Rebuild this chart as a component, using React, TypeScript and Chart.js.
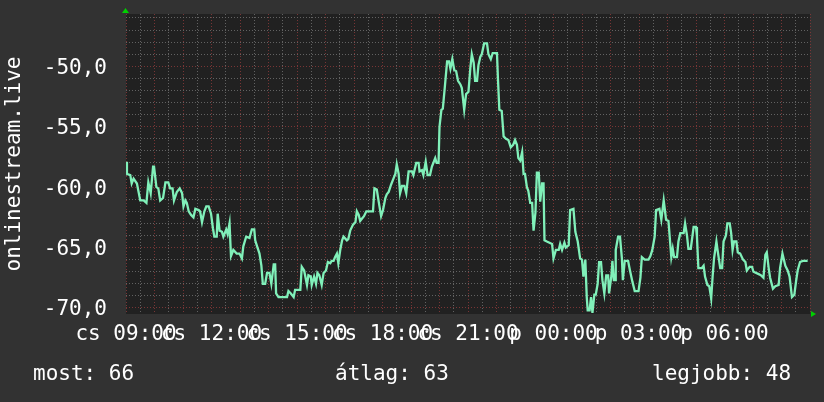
import React, { useEffect, useRef } from 'react';
import { Chart, registerables } from 'chart.js';

Chart.register(...registerables);

// minutes since "cs 09:00"
const times = [
  0, 2, 9, 12, 16, 23, 30, 37, 43, 47, 52, 57, 59, 64, 68, 72, 78, 83, 89, 93,
  98, 101, 107, 113, 118, 121, 125, 128, 132, 137, 142, 146, 153, 156, 160, 165, 169, 174, 179, 183,
  186, 191, 193, 197, 202, 205, 211, 214, 218, 221, 226, 233, 239, 244, 247, 253, 260, 265, 270, 272,
  276, 281, 285, 288, 293, 297, 302, 306, 311, 314, 316, 321, 339, 342, 347, 353, 356, 367, 370, 375,
  381, 384, 389, 391, 396, 400, 403, 407, 412, 416, 421, 425, 430, 433, 437, 440, 444, 447, 451, 455,
  458, 465, 468, 472, 478, 483, 486, 490, 493, 497, 501, 506, 520, 523, 528, 532, 537, 541, 546, 549,
  553, 558, 562, 567, 570, 574, 577, 581, 586, 590, 595, 602, 605, 611, 616, 618, 623, 626, 631, 635,
  640, 644, 647, 651, 654, 658, 660, 664, 667, 671, 676, 680, 683, 687, 691, 695, 699, 704, 707, 709,
  712, 716, 721, 725, 728, 732, 735, 739, 742, 746, 749, 754, 760, 763, 768, 772, 781, 783, 786, 791,
  795, 800, 805, 810, 815, 819, 823, 826, 830, 834, 837, 840, 844, 847, 851, 855, 858, 862, 865, 869,
  872, 876, 879, 881, 886, 897, 900, 905, 911, 914, 918, 923, 926, 932, 935, 942, 946, 951, 956, 960,
  963, 967, 970, 972, 976, 979, 982, 986, 989, 993, 996, 1000, 1003, 1007, 1011, 1015, 1017, 1022, 1024, 1027,
  1030, 1031, 1036, 1040, 1044, 1046, 1050, 1057, 1061, 1066, 1071, 1079, 1083, 1086, 1092, 1100, 1104, 1108, 1113, 1116,
  1123, 1127, 1132, 1137, 1142, 1148, 1151, 1154, 1160, 1163, 1167, 1174, 1177, 1181, 1184, 1189, 1195, 1200, 1202, 1205,
  1212, 1216, 1219, 1224, 1228, 1232, 1235, 1238, 1243, 1245, 1251, 1255, 1258, 1263, 1266, 1271, 1274, 1277, 1280, 1285,
  1288, 1293, 1299, 1304, 1307, 1313, 1318, 1321, 1332, 1337, 1342, 1346, 1349, 1353, 1356, 1362, 1367, 1374, 1377, 1382,
  1388, 1393, 1397, 1402, 1407, 1411, 1414, 1419, 1425, 1435,
];

const values = [
  -57.9, -58.9, -59.0, -59.7, -59.3, -59.7, -61.1, -61.1, -61.3, -59.6, -60.5, -58.3, -58.3, -60.0, -60.1, -61.1, -60.9, -59.6, -59.6, -60.1,
  -60.1, -61.1, -60.4, -60.1, -60.5, -61.6, -61.1, -61.3, -62.0, -62.3, -62.5, -61.8, -61.9, -62.0, -62.9, -62.0, -61.6, -61.6, -62.2, -63.4,
  -64.1, -64.1, -62.2, -63.6, -63.7, -64.1, -63.5, -63.9, -63.0, -65.7, -65.2, -65.5, -65.5, -65.9, -64.9, -64.1, -64.2, -63.5, -63.5, -64.4,
  -64.9, -65.5, -66.5, -68.0, -68.0, -67.1, -67.1, -68.0, -66.4, -66.4, -68.8, -69.1, -69.1, -68.6, -68.8, -69.1, -68.5, -68.5, -66.6, -66.9,
  -68.1, -67.3, -67.4, -68.1, -67.4, -68.0, -67.1, -67.3, -68.1, -67.1, -66.9, -66.2, -66.3, -66.1, -66.1, -65.8, -65.5, -66.3, -65.2, -64.4,
  -64.1, -64.4, -64.3, -63.6, -63.1, -62.9, -62.0, -62.3, -62.8, -62.6, -62.4, -62.0, -62.0, -60.1, -60.2, -61.2, -62.4, -61.9, -60.9, -60.6,
  -60.4, -59.8, -59.4, -58.9, -58.1, -58.9, -60.5, -59.9, -59.9, -60.5, -58.7, -58.7, -59.0, -58.0, -58.0, -58.7, -58.6, -59.0, -57.9, -59.0,
  -59.0, -58.3, -58.0, -57.6, -58.0, -58.0, -55.0, -53.6, -53.5, -51.8, -49.6, -49.6, -50.2, -49.4, -50.3, -50.4, -51.2, -51.5, -51.8, -52.5,
  -53.6, -52.3, -52.1, -50.1, -49.0, -49.7, -51.2, -51.2, -49.9, -49.2, -49.0, -48.1, -48.1, -49.0, -49.4, -48.9, -48.9, -51.0, -53.6, -53.7,
  -55.8, -56.0, -56.1, -56.7, -56.5, -56.1, -56.5, -57.6, -57.8, -57.1, -58.9, -58.9, -60.0, -60.3, -61.3, -61.3, -63.6, -62.1, -58.8, -58.8,
  -61.2, -59.7, -59.7, -64.4, -64.5, -64.7, -65.9, -65.2, -65.2, -64.7, -65.2, -64.6, -65.0, -64.8, -61.9, -61.8, -63.7, -64.5, -65.9, -66.0,
  -67.4, -66.0, -69.1, -70.2, -70.2, -69.1, -70.4, -68.9, -68.9, -68.0, -66.2, -66.2, -67.7, -68.8, -67.3, -67.3, -68.8, -67.3, -66.1, -67.7,
  -67.7, -65.2, -64.1, -64.1, -65.9, -67.7, -66.1, -66.1, -66.9, -67.8, -68.6, -68.6, -67.5, -65.8, -66.0, -66.0, -65.7, -65.2, -64.1, -61.9,
  -61.8, -62.7, -61.1, -62.7, -62.8, -65.8, -65.1, -65.8, -65.8, -64.5, -63.8, -63.8, -63.0, -64.0, -65.1, -65.1, -63.3, -63.3, -64.1, -66.7,
  -66.7, -66.5, -67.4, -68.1, -68.2, -69.2, -67.4, -65.9, -64.5, -65.1, -66.7, -66.7, -64.5, -64.0, -63.0, -63.0, -63.8, -65.2, -64.5, -64.5,
  -65.4, -65.5, -66.0, -66.2, -66.9, -66.6, -66.6, -67.0, -67.2, -67.3, -67.5, -65.6, -65.4, -66.7, -67.5, -68.4, -68.2, -68.1, -66.7, -65.5,
  -66.5, -66.9, -67.4, -69.1, -68.9, -67.7, -66.9, -66.2, -66.1, -66.1,
];

const xTickLabels = ['cs 09:00', 'cs 12:00', 'cs 15:00', 'cs 18:00', 'cs 21:00', 'p 00:00', 'p 03:00', 'p 06:00'];
const yTitle = 'onlinestream.live';
const legendTexts = ['most: 66', 'átlag: 63', 'legjobb: 48'];

const FONT = "'DejaVu Sans Mono', monospace";
const GRID_MINOR = 'rgba(105,105,105,0.9)';
const GRID_MAJOR = 'rgba(130,55,55,0.9)';

const zeroPad = (s: any) => {
  s.paddingTop = 0;
  s.paddingBottom = 0;
  s.paddingLeft = 0;
  s.paddingRight = 0;
};

const decorPlugin = {
  id: 'decor',
  beforeDraw(chart: any) {
    const { ctx, chartArea: a } = chart;
    ctx.save();
    ctx.fillStyle = '#323232';
    ctx.fillRect(0, 0, chart.width, chart.height);
    ctx.fillStyle = '#212121';
    ctx.fillRect(a.left, a.top, a.right - a.left, a.bottom - a.top);
    ctx.restore();
  },
  afterDraw(chart: any) {
    const { ctx, chartArea: a } = chart;
    ctx.save();
    ctx.fillStyle = '#00d000';
    ctx.beginPath();
    ctx.moveTo(a.left - 4, a.top - 1);
    ctx.lineTo(a.left + 3, a.top - 1);
    ctx.lineTo(a.left - 0.5, a.top - 6);
    ctx.closePath();
    ctx.fill();
    ctx.beginPath();
    ctx.moveTo(a.right + 1, a.bottom - 3);
    ctx.lineTo(a.right + 1, a.bottom + 3);
    ctx.lineTo(a.right + 6, a.bottom);
    ctx.closePath();
    ctx.fill();

    ctx.fillStyle = '#ffffff';
    ctx.font = `21px ${FONT}`;
    ctx.textBaseline = 'alphabetic';
    ctx.textAlign = 'left';
    const xs = [33, 335, 652];
    legendTexts.forEach((t, i) => ctx.fillText(t, xs[i], 380));
    ctx.restore();
  },
};

export default function App() {
  const ref = useRef<HTMLCanvasElement | null>(null);

  useEffect(() => {
    if (!ref.current) return;
    const chart = new Chart(ref.current, {
      type: 'line',
      data: {
        datasets: [
          {
            data: times.map((t, i) => ({ x: t, y: values[i] })),
            borderColor: '#80f0b9',
            borderWidth: 2.3,
            pointRadius: 0,
            tension: 0,
            fill: false,
          },
        ],
      },
      options: {
        responsive: false,
        animation: false,
        maintainAspectRatio: false,
        layout: { padding: { top: 14, right: 14, left: 0, bottom: 0 } },
        plugins: { legend: { display: false }, tooltip: { enabled: false } },
        scales: {
          x: {
            type: 'linear',
            min: 0,
            max: 1440,
            afterFit: (s: any) => {
              s.height = 88;
              zeroPad(s);
            },
            border: { display: false, dash: [1, 2] },
            grid: {
              drawTicks: false,
              lineWidth: 1,
              color: (c: any) => (c.tick && c.tick.value % 60 === 0 ? GRID_MAJOR : GRID_MINOR),
            },
            ticks: {
              stepSize: 30,
              maxTicksLimit: 200,
              autoSkip: false,
              maxRotation: 0,
              minRotation: 0,
              padding: 8,
              color: '#ffffff',
              font: { family: FONT, size: 21 },
              callback: (v: any) => {
                const n = Number(v);
                if (n % 180 !== 0) return '';
                return xTickLabels[n / 180] ?? '';
              },
            },
          },
          y: {
            type: 'linear',
            min: -70.5,
            max: -45.67,
            afterFit: (s: any) => {
              s.width = 126;
              zeroPad(s);
            },
            border: { display: false, dash: [1, 2] },
            grid: {
              drawTicks: false,
              lineWidth: 1,
              color: (c: any) => (c.tick && Math.round(c.tick.value) % 5 === 0 ? GRID_MAJOR : GRID_MINOR),
            },
            title: {
              display: true,
              text: yTitle,
              color: '#ffffff',
              font: { family: FONT, size: 21 },
              padding: { top: 2, bottom: 0 },
            },
            ticks: {
              stepSize: 1,
              maxTicksLimit: 200,
              includeBounds: false,
              autoSkip: false,
              padding: 19,
              labelOffset: 2,
              color: '#ffffff',
              font: { family: FONT, size: 21 },
              callback: (v: any) => {
                const n = Math.round(Number(v));
                return n % 5 === 0 ? n.toFixed(1).replace('.', ',') : '';
              },
            },
          },
        },
      } as any,
      plugins: [decorPlugin],
    });
    return () => chart.destroy();
  }, []);

  return (
    <div style={{ position: 'fixed', left: 0, top: 0, width: 824, height: 402, background: '#323232' }}>
      <canvas ref={ref} width={824} height={402} style={{ width: 824, height: 402, display: 'block' }} />
    </div>
  );
}
